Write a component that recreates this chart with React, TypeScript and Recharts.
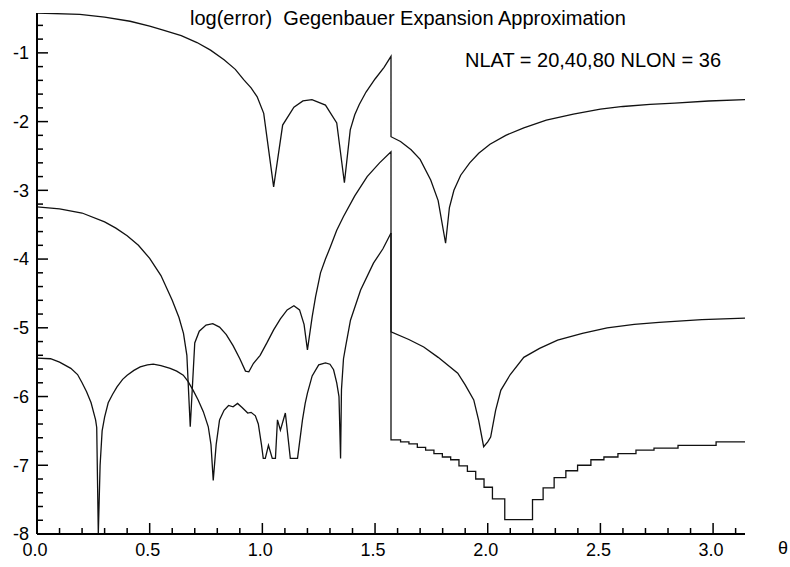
import { LineChart, Line, XAxis, YAxis } from 'recharts';

// NLAT = 20
const nlat20Theta = [0, 0.19, 0.3, 0.413, 0.5, 0.56, 0.64, 0.71, 0.77, 0.83, 0.88, 0.917, 0.95, 0.977, 1.006, 1.05, 1.09, 1.14, 1.18, 1.22, 1.28, 1.33, 1.364, 1.39, 1.41, 1.43, 1.46, 1.5, 1.54, 1.5708, 1.5708, 1.613, 1.66, 1.7, 1.747, 1.78, 1.813, 1.83, 1.85, 1.88, 1.92, 1.96, 2.01, 2.08, 2.16, 2.26, 2.38, 2.5, 2.6, 2.72, 2.83, 2.98, 3.1416];
const nlat20Err = [-0.42, -0.44, -0.48, -0.54, -0.61, -0.67, -0.75, -0.85, -0.96, -1.1, -1.24, -1.39, -1.51, -1.64, -1.88, -2.95, -2.05, -1.79, -1.7, -1.68, -1.76, -2.02, -2.89, -2.12, -1.9, -1.75, -1.57, -1.38, -1.21, -1.05, -2.22, -2.29, -2.41, -2.55, -2.85, -3.15, -3.77, -3.25, -3.0, -2.78, -2.6, -2.46, -2.33, -2.2, -2.09, -1.98, -1.89, -1.82, -1.78, -1.75, -1.73, -1.7, -1.68];

// NLAT = 40
const nlat40Theta = [0, 0.1, 0.2, 0.3, 0.35, 0.4, 0.45, 0.5, 0.55, 0.6, 0.63, 0.65, 0.665, 0.68, 0.7, 0.72, 0.75, 0.78, 0.81, 0.84, 0.87, 0.9, 0.925, 0.94, 0.96, 0.99, 1.02, 1.05, 1.08, 1.11, 1.14, 1.165, 1.185, 1.2, 1.221, 1.236, 1.258, 1.28, 1.302, 1.33, 1.36, 1.41, 1.465, 1.52, 1.5708, 1.5708, 1.65, 1.716, 1.78, 1.867, 1.9, 1.938, 1.96, 1.982, 2.0, 2.013, 2.035, 2.058, 2.1, 2.16, 2.23, 2.31, 2.42, 2.53, 2.65, 2.76, 2.95, 3.1416];
const nlat40Err = [-3.24, -3.27, -3.33, -3.46, -3.55, -3.66, -3.8, -3.99, -4.24, -4.6, -4.85, -5.08, -5.4, -6.44, -5.22, -5.05, -4.96, -4.94, -4.99, -5.1, -5.26, -5.45, -5.63, -5.64, -5.52, -5.4, -5.22, -5.03, -4.87, -4.74, -4.68, -4.74, -4.95, -5.32, -4.84, -4.55, -4.2, -4.0, -3.82, -3.58, -3.38, -3.08, -2.8, -2.6, -2.44, -5.06, -5.17, -5.28, -5.43, -5.66, -5.83, -6.05, -6.35, -6.73, -6.66, -6.59, -6.2, -5.91, -5.68, -5.43, -5.3, -5.18, -5.08, -5.0, -4.95, -4.92, -4.88, -4.86];

// NLAT = 80, 0 .. pi/2
const nlat80Theta = [0, 0.06, 0.1, 0.15, 0.18, 0.2, 0.22, 0.24, 0.26, 0.265, 0.272, 0.28, 0.289, 0.3, 0.316, 0.335, 0.355, 0.38, 0.4, 0.43, 0.458, 0.49, 0.516, 0.55, 0.591, 0.62, 0.649, 0.67, 0.693, 0.715, 0.738, 0.76, 0.772, 0.782, 0.795, 0.81, 0.83, 0.85, 0.87, 0.89, 0.91, 0.935, 0.95, 0.969, 0.982, 0.996, 1.004, 1.013, 1.027, 1.044, 1.058, 1.067, 1.08, 1.102, 1.124, 1.156, 1.178, 1.19, 1.2, 1.221, 1.25, 1.28, 1.3, 1.316, 1.33, 1.34, 1.347, 1.351, 1.36, 1.369, 1.391, 1.436, 1.493, 1.535, 1.5708];
const nlat80Err = [-5.44, -5.45, -5.5, -5.59, -5.68, -5.8, -5.93, -6.09, -6.34, -6.45, -8.0, -7.0, -6.5, -6.3, -6.09, -5.97, -5.86, -5.75, -5.69, -5.62, -5.57, -5.54, -5.53, -5.55, -5.59, -5.63, -5.69, -5.78, -5.91, -6.05, -6.22, -6.44, -6.7, -7.22, -6.7, -6.34, -6.2, -6.13, -6.15, -6.1, -6.16, -6.24, -6.23, -6.28, -6.4, -6.7, -6.9, -6.9, -6.71, -6.9, -6.9, -6.34, -6.49, -6.24, -6.9, -6.9, -6.34, -6.1, -5.95, -5.7, -5.54, -5.51, -5.53, -5.61, -5.8, -6.0, -6.9, -5.9, -5.45, -5.28, -4.89, -4.45, -4.06, -3.85, -3.62];

// NLAT = 80, pi/2 .. pi (stepped)
const nlat80StepTheta = [1.5708, 1.5708, 1.6133, 1.6504, 1.6876, 1.7244, 1.7613, 1.7987, 1.8356, 1.8724, 1.9098, 1.9467, 1.9836, 2.0209, 2.0756, 2.1987, 2.2458, 2.2947, 2.3467, 2.3987, 2.4578, 2.5156, 2.5778, 2.6578, 2.7378, 2.8444, 3.0133, 3.1416];
const nlat80StepErr = [-3.62, -6.63, -6.66, -6.69, -6.74, -6.78, -6.83, -6.88, -6.92, -7.01, -7.09, -7.2, -7.32, -7.49, -7.79, -7.5, -7.33, -7.18, -7.08, -7.0, -6.92, -6.88, -6.83, -6.78, -6.75, -6.71, -6.66, -6.66];

const xMajorTicks = [0, 0.5, 1.0, 1.5, 2.0, 2.5, 3.0];
const xMinorTicks = [0, 0.1, 0.2, 0.3, 0.4, 0.5, 0.6, 0.7, 0.8, 0.9, 1.0, 1.1, 1.2, 1.3, 1.4, 1.5, 1.6, 1.7, 1.8, 1.9, 2.0, 2.1, 2.2, 2.3, 2.4, 2.5, 2.6, 2.7, 2.8, 2.9, 3.0, 3.1];
const yMajorTicks = [-8, -7, -6, -5, -4, -3, -2, -1];
const yMinorTicks = [-8, -7.8, -7.6, -7.4, -7.2, -7, -6.8, -6.6, -6.4, -6.2, -6, -5.8, -5.6, -5.4, -5.2, -5, -4.8, -4.6, -4.4, -4.2, -4, -3.8, -3.6, -3.4, -3.2, -3, -2.8, -2.6, -2.4, -2.2, -2, -1.8, -1.6, -1.4, -1.2, -1, -0.8, -0.6];

const toPoints = (xs: number[], ys: number[]) => xs.map((x, i) => ({ x, y: ys[i] }));

const isMajor = (list: number[], v: number) => list.some(m => Math.abs(m - v) < 1e-6);

const FONT = '"Liberation Sans", Arial, Helvetica, sans-serif';

const XTick = ({ x, y, payload }: any) => {
    const major = isMajor(xMajorTicks, payload.value);
    return (
        <g>
            <line x1={x} y1={y} x2={x} y2={y - (major ? 11 : 6)} stroke="#000" strokeWidth={1.5} />
            {major && (
                <text x={x - 2} y={y + 22} textAnchor="middle" fontSize={18} fontFamily={FONT} fill="#000">
                    {payload.value.toFixed(1)}
                </text>
            )}
        </g>
    );
};

const YTick = ({ x, y, payload }: any) => {
    const major = isMajor(yMajorTicks, payload.value);
    return (
        <g>
            <line x1={x} y1={y} x2={x + (major ? 11 : 6)} y2={y} stroke="#000" strokeWidth={1.5} />
            {major && (
                <text x={x - 8} y={y} dy="0.35em" textAnchor="end" fontSize={18} fontFamily={FONT} fill="#000">
                    {payload.value}
                </text>
            )}
        </g>
    );
};

export default function App() {
    const lineProps = { dataKey: 'y', stroke: '#111', strokeWidth: 1.3, dot: false, isAnimationActive: false };
    return (
        <div style={{ position: 'absolute', left: 0, top: 0, width: 790, height: 567, overflow: 'hidden', background: '#fff', fontFamily: FONT }}>
            <LineChart width={790} height={567} margin={{ top: 13, right: 45, bottom: 0, left: 0 }}>
                <XAxis
                    type="number"
                    dataKey="x"
                    domain={[0, Math.PI]}
                    allowDataOverflow
                    ticks={xMinorTicks}
                    interval={0}
                    tick={<XTick />}
                    tickLine={false}
                    tickSize={0}
                    tickMargin={0}
                    height={33}
                    axisLine={{ stroke: '#000', strokeWidth: 2 }}
                />
                <YAxis
                    type="number"
                    domain={[-8, -0.42]}
                    allowDataOverflow
                    ticks={yMinorTicks}
                    interval={0}
                    tick={<YTick />}
                    tickLine={false}
                    tickSize={0}
                    tickMargin={0}
                    width={37}
                    axisLine={{ stroke: '#000', strokeWidth: 2 }}
                />
                <Line {...lineProps} data={toPoints(nlat20Theta, nlat20Err)} type="linear" />
                <Line {...lineProps} data={toPoints(nlat40Theta, nlat40Err)} type="linear" />
                <Line {...lineProps} data={toPoints(nlat80Theta, nlat80Err)} type="linear" />
                <Line {...lineProps} data={toPoints(nlat80StepTheta, nlat80StepErr)} type="stepAfter" />
            </LineChart>
            <div style={{ position: 'absolute', left: 190, top: 8, fontSize: 20, lineHeight: '20px', whiteSpace: 'pre' }}>
                log(error)  Gegenbauer Expansion Approximation
            </div>
            <div style={{ position: 'absolute', left: 465, top: 50, fontSize: 20, lineHeight: '20px', whiteSpace: 'pre' }}>
                NLAT = 20,40,80 NLON = 36
            </div>
            <div style={{ position: 'absolute', left: 778, top: 539, fontSize: 18, lineHeight: '18px' }}>θ</div>
        </div>
    );
}
